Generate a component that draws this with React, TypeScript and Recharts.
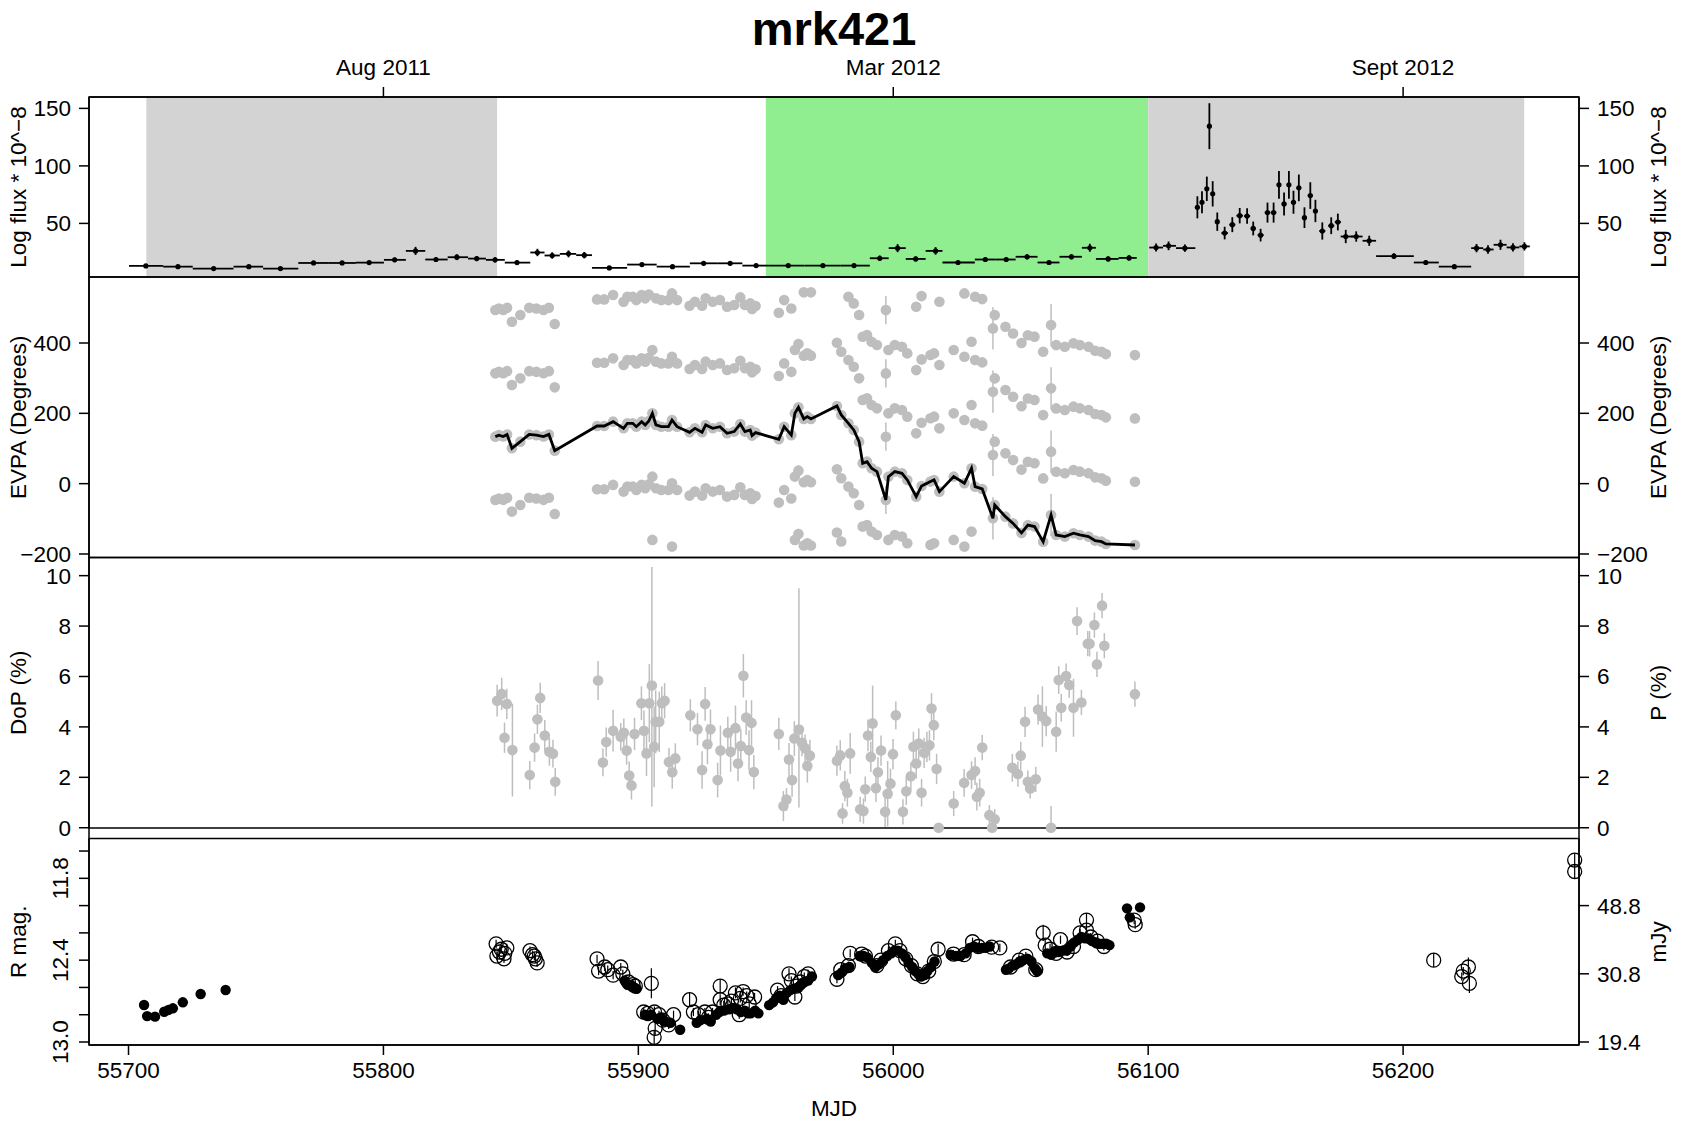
import React from 'react';
import { ComposedChart, Scatter, Line, XAxis, YAxis, ErrorBar, ReferenceArea } from 'recharts';

const FONT = "'Liberation Sans', Arial, Helvetica, sans-serif";
const PAGE_W = 1681;
const PAGE_H = 1123;
const PLOT_L = 89;
const PLOT_R = 1579;
const Y_W = 60;
const X_H = 30;
const X_DOMAIN: [number, number] = [55684.5, 56269];

// ---------- axis ticks / labels ----------
const TOP_TICKS = [55800, 56000, 56200];
const TOP_LABELS = ['Aug 2011', 'Mar 2012', 'Sept 2012'];
const MJD_TICKS = [55700, 55800, 55900, 56000, 56100, 56200];
const FLUX_TICKS = [50, 100, 150];
const EVPA_TICKS = [-200, 0, 200, 400];
const DOP_TICKS = [0, 2, 4, 6, 8, 10];
const RMAG_TICKS = [11.6, 11.8, 12.0, 12.2, 12.4, 12.6, 12.8, 13.0];
const RMAG_LABELLED = [11.8, 12.4, 13.0];
const MJY_TICKS = [12.0, 12.5, 13.0];
const MJY_LABELS = ['48.8', '30.8', '19.4'];

// ---------- shaded intervals (MJD) ----------
const SHADE_GRAY_1 = [55707, 55844.6];
const SHADE_GREEN = [55950, 56100];
const SHADE_GRAY_2 = [56100, 56247.5];

// ---------- panel layout ----------
const P_FLUX = { top: 97, bottom: 277, domain: [3.4, 159.9] as [number, number] };
const P_EVPA = { top: 277, bottom: 557.5, domain: [-210, 587.7] as [number, number] };
const P_DOP = { top: 557.5, bottom: 828, domain: [-0.01, 10.72] as [number, number] };
const P_RMAG = { top: 838.5, bottom: 1045, domain: [11.508, 13.022] as [number, number] };

// ---------- data: gamma-ray flux [mjd, binStart, binEnd, flux, err] ----------
const fluxRows = [
  [55706.8, 55700.2, 55713.6, 13.0, 1.2], [55719.4, 55713.6, 55725.2, 12.4, 1.2],
  [55733.4, 55725.2, 55741.2, 10.7, 1.0], [55747.2, 55741.2, 55752.8, 12.4, 1.3],
  [55759.6, 55752.8, 55766.6, 10.7, 1.0], [55772.6, 55766.6, 55778.6, 15.6, 1.5],
  [55783.8, 55778.6, 55789.2, 15.6, 1.4], [55794.4, 55789.2, 55800.2, 15.9, 1.5],
  [55804.4, 55800.2, 55808.8, 18.3, 2.0], [55812.6, 55808.8, 55816.4, 26.1, 3.5],
  [55820.6, 55816.4, 55825.2, 18.6, 2.0], [55828.8, 55825.2, 55833.2, 20.6, 2.5],
  [55836.6, 55833.2, 55840.2, 19.4, 2.2], [55843.8, 55840.2, 55847.6, 18.3, 2.2],
  [55852.4, 55847.6, 55857.6, 15.9, 1.8], [55860.4, 55857.6, 55863.2, 24.7, 3.2],
  [55866.2, 55863.2, 55869.2, 22.1, 2.8], [55872.6, 55869.2, 55875.6, 23.5, 3.0],
  [55878.8, 55875.6, 55881.8, 22.4, 2.8], [55888.6, 55881.8, 55895.6, 11.3, 1.0],
  [55901.4, 55895.6, 55907.2, 14.2, 1.4], [55913.4, 55907.2, 55920.2, 12.4, 1.2],
  [55925.6, 55920.2, 55931.2, 15.3, 1.5], [55936.0, 55931.2, 55940.8, 15.3, 1.4],
  [55946.2, 55940.8, 55951.2, 13.3, 1.3], [55958.8, 55951.2, 55965.2, 13.3, 1.0],
  [55972.4, 55965.2, 55979.2, 13.3, 1.0], [55984.6, 55979.2, 55990.8, 13.3, 1.0],
  [55994.7, 55990.8, 55998.2, 19.7, 2.4], [56001.7, 55998.2, 56004.9, 28.5, 3.5],
  [56008.8, 56004.9, 56012.7, 19.1, 2.2], [56016.6, 56012.7, 56019.3, 26.1, 3.3],
  [56025.4, 56019.3, 56032.0, 16.0, 1.5], [56036.1, 56032.0, 56040.2, 18.6, 2.0],
  [56044.3, 56040.2, 56048.0, 18.6, 2.0], [56052.5, 56048.0, 56056.6, 21.0, 2.4],
  [56061.1, 56056.6, 56065.2, 16.0, 1.8], [56069.9, 56065.2, 56074.0, 21.0, 2.4],
  [56077.1, 56074.0, 56079.5, 28.8, 3.5], [56084.3, 56079.5, 56088.4, 19.1, 2.2],
  [56092.5, 56088.4, 56095.5, 20.0, 2.3], [56103.1, 56100.4, 56105.8, 29.0, 3.5],
  [56108.0, 56105.8, 56110.9, 30.5, 3.8], [56114.4, 56110.9, 56118.5, 28.5, 3.2],
  [56119.3, 56118.8, 56119.8, 64.0, 9.6], [56121.1, 56120.6, 56121.6, 68.4, 9.5],
  [56123.0, 56122.5, 56123.5, 80.1, 10.6], [56124.0, 56123.6, 56124.4, 134.5, 20.0],
  [56125.3, 56124.8, 56125.8, 75.7, 11.0], [56127.1, 56126.4, 56127.8, 51.5, 8.0],
  [56130.0, 56128.7, 56131.3, 41.6, 5.5], [56133.0, 56131.8, 56134.2, 48.9, 6.5],
  [56135.9, 56134.6, 56137.2, 56.7, 6.7], [56138.8, 56137.6, 56140.0, 56.4, 6.7],
  [56141.2, 56140.2, 56142.2, 45.6, 6.0], [56144.1, 56142.9, 56145.3, 39.8, 5.5],
  [56146.8, 56145.7, 56147.9, 59.4, 8.7], [56149.2, 56148.1, 56150.3, 59.4, 8.7],
  [56151.3, 56150.5, 56152.1, 83.5, 12.0], [56153.3, 56152.4, 56154.2, 66.9, 10.0],
  [56155.2, 56154.4, 56156.0, 83.5, 12.0], [56157.0, 56156.2, 56157.8, 68.4, 10.0],
  [56159.1, 56158.2, 56160.0, 80.9, 11.6], [56161.3, 56160.3, 56162.3, 55.0, 9.0],
  [56163.6, 56162.6, 56164.6, 74.2, 11.6], [56165.6, 56164.7, 56166.5, 60.8, 9.7],
  [56168.3, 56167.1, 56169.5, 43.4, 7.5], [56171.8, 56170.6, 56173.0, 48.0, 7.3],
  [56174.4, 56173.2, 56175.6, 51.2, 7.3], [56177.5, 56175.5, 56180.6, 38.6, 5.8],
  [56181.6, 56179.6, 56184.1, 38.6, 4.5], [56186.7, 56184.1, 56189.4, 34.9, 4.4],
  [56196.4, 56189.4, 56204.2, 21.5, 2.5], [56208.9, 56204.2, 56214.0, 16.0, 1.8],
  [56220.1, 56214.0, 56226.7, 12.4, 1.2], [56228.8, 56226.7, 56231.4, 28.5, 3.6],
  [56233.3, 56231.4, 56235.5, 27.3, 3.6], [56238.2, 56235.5, 56240.6, 31.4, 4.4],
  [56243.1, 56240.6, 56245.6, 29.1, 3.6], [56247.6, 56245.6, 56249.7, 30.0, 3.6],
];

// ---------- data: EVPA [mjd, evpa(deg), err] ----------
const evpaRows = [
  [55843.9, 133.7, 5], [55845.3, 138, 4], [55847.0, 134, 4], [55848.5, 140, 4], [55850.4, 100.5, 8],
  [55853.7, 119.5, 4], [55857.2, 140, 4], [55860.0, 138, 4], [55862.8, 134, 4], [55864.9, 140, 4],
  [55867.2, 93.9, 6], [55883.8, 164, 4], [55886.6, 164, 4], [55890.1, 176.4, 5], [55894.2, 157.4, 5],
  [55895.7, 171.6, 4], [55897.8, 171.6, 4], [55899.2, 162, 4], [55901.3, 176.4, 4], [55902.7, 167, 4],
  [55904.1, 178, 5], [55905.5, 200, 12], [55906.9, 167, 5], [55909.0, 162, 4], [55911.8, 162, 4],
  [55913.2, 181, 5], [55915.2, 162, 4], [55920.1, 146, 4], [55922.2, 157.4, 4], [55925.0, 146, 4],
  [55926.4, 167, 4], [55929.2, 157.4, 4], [55932.0, 162, 4], [55934.8, 143.2, 4], [55937.6, 148, 4],
  [55940.0, 169.7, 5], [55941.8, 148, 4], [55943.9, 152.6, 4], [55944.6, 136.6, 4], [55946.0, 145.1, 4],
  [55955.1, 126.1, 5], [55957.2, 162, 5], [55960.0, 138, 5], [55961.4, 200, 8], [55962.8, 217, 15],
  [55964.9, 184, 5], [55966.3, 190.6, 5], [55967.7, 184, 5], [55977.9, 220.9, 5], [55979.6, 195.3, 5],
  [55982.4, 171.6, 5], [55984.5, 152.6, 5], [55986.6, 119.5, 5], [55988.0, 57.9, 8], [55989.7, 62.6, 5],
  [55991.5, 43.7, 5], [55993.6, 34.2, 5], [55997.1, -46.4, 40], [55998.1, 20, 5], [56000.6, 34.2, 5],
  [56003.4, 29.4, 5], [56005.5, 10.5, 5], [56009.0, -37, 6], [56011.1, -6.6, 5], [56014.6, 5.8, 5],
  [56016.0, 10.5, 5], [56018.1, -22.7, 5], [56023.7, 20, 5], [56027.9, 1, 5], [56030.7, 43.7, 6],
  [56032.1, -8.5, 5], [56034.9, -15.1, 5], [56039.1, -98.5, 60], [56039.8, -60.6, 10], [56044.0, -93.8, 5],
  [56047.0, -113, 5], [56050.3, -140, 5], [56052.8, -118, 5], [56055.4, -122, 5], [56058.8, -165, 6],
  [56061.9, -89, 60], [56063.9, -146, 5], [56067.3, -150.6, 5], [56070.7, -141, 5], [56073.2, -145.9, 5],
  [56076.6, -150.6, 5], [56079.2, -162, 5], [56081.7, -164.9, 5], [56083.4, -171.5, 5], [56094.8, -174.4, 5],
];
// the 180-degree ambiguity copies shown in grey
const EVPA_WRAPS = [-2, -1, 1, 2, 3];
const EVPA_COPY_RANGE = [-180, 545];

// ---------- data: degree of polarisation [mjd, dop(%), errLow, errHigh] ----------
const dopRows = [
  [55844.6, 5.04, 0.63, 0.63], [55846.4, 5.31, 0.64, 0.64], [55848.4, 4.91, 0.6, 0.6], [55847.5, 3.57, 0.6, 0.6],
  [55850.6, 3.08, 1.84, 1.84], [55857.4, 2.09, 0.56, 0.56], [55859.3, 3.18, 0.56, 0.56], [55860.4, 4.3, 0.58, 0.58],
  [55861.5, 5.15, 0.6, 0.6], [55863.3, 3.66, 0.61, 0.61], [55865.1, 3.01, 0.55, 0.55], [55866.5, 2.94, 0.55, 0.55],
  [55867.4, 1.82, 0.55, 0.55], [55884.2, 5.84, 0.77, 0.77], [55886.1, 2.59, 0.55, 0.55], [55887.4, 3.4, 0.58, 0.58],
  [55890.1, 3.85, 0.83, 0.83], [55893.1, 3.61, 0.55, 0.55], [55894.3, 3.77, 0.56, 0.56], [55895.4, 3.06, 0.56, 0.56],
  [55896.4, 2.07, 0.56, 0.56], [55897.3, 1.68, 0.56, 0.56], [55898.5, 3.72, 0.64, 0.64], [55901.2, 4.94, 0.67, 0.67],
  [55902.2, 3.85, 0.8, 0.8], [55903.2, 2.95, 0.9, 0.9], [55904.3, 4.94, 1.55, 1.55], [55905.3, 5.64, 4.8, 4.7],
  [55906.2, 3.21, 1.6, 1.6], [55906.8, 4.2, 1.25, 1.25], [55908.2, 4.2, 1.2, 1.2], [55909.2, 4.94, 0.66, 0.66],
  [55910.3, 5.04, 0.7, 0.7], [55912.0, 2.61, 0.55, 0.55], [55913.3, 2.2, 0.65, 0.65], [55914.5, 2.75, 0.6, 0.6],
  [55920.4, 4.46, 0.64, 0.64], [55923.2, 3.91, 0.64, 0.64], [55925.0, 2.29, 0.74, 0.74], [55926.2, 4.91, 0.67, 0.67],
  [55927.1, 3.31, 0.79, 0.79], [55928.3, 3.91, 0.78, 0.78], [55931.1, 1.89, 0.69, 0.69], [55932.2, 3.06, 0.99, 0.99],
  [55935.1, 3.77, 0.63, 0.63], [55936.2, 3.01, 0.79, 0.79], [55938.1, 3.95, 0.9, 0.9], [55939.1, 2.55, 0.71, 0.71],
  [55940.2, 3.24, 0.66, 0.66], [55941.2, 6.03, 0.86, 0.86], [55942.3, 4.37, 0.69, 0.69], [55943.4, 3.08, 0.79, 0.79],
  [55944.4, 4.16, 0.9, 0.9], [55945.3, 2.21, 0.68, 0.68], [55955.1, 3.72, 0.64, 0.64], [55956.9, 0.86, 0.6, 0.6],
  [55958.1, 1.12, 0.45, 0.45], [55959.1, 2.71, 0.65, 0.65], [55960.3, 1.89, 0.66, 0.66], [55961.2, 3.54, 0.69, 0.69],
  [55963.0, 3.9, 3.1, 5.6], [55964.2, 3.37, 0.53, 0.53], [55965.4, 3.15, 0.55, 0.55], [55966.3, 2.45, 0.66, 0.66],
  [55967.3, 2.86, 0.63, 0.63], [55977.9, 2.66, 0.6, 0.6], [55979.2, 2.87, 0.6, 0.6], [55980.1, 0.57, 0.41, 0.41],
  [55981.0, 1.65, 0.6, 0.6], [55982.0, 1.39, 0.55, 0.55], [55983.1, 2.95, 0.81, 0.81], [55987.0, 0.73, 0.5, 0.5],
  [55988.3, 0.66, 0.5, 0.5], [55989.0, 1.53, 0.5, 0.5], [55990.1, 3.66, 0.63, 0.63], [55991.2, 2.81, 0.6, 0.6],
  [55991.9, 4.14, 1.5, 1.5], [55993.2, 1.57, 0.55, 0.55], [55994.0, 2.2, 0.6, 0.6], [55995.2, 3.06, 0.6, 0.6],
  [55996.8, 0.63, 0.6, 0.86], [55997.8, 1.35, 1.3, 1.3], [55998.9, 1.75, 0.6, 0.6], [55999.9, 2.92, 0.6, 0.6],
  [56001.0, 4.46, 0.55, 0.55], [56003.8, 0.63, 0.5, 0.5], [56005.1, 1.45, 0.55, 0.55], [56006.9, 2.04, 0.55, 0.55],
  [56007.9, 3.21, 0.6, 0.6], [56009.0, 2.55, 0.6, 0.6], [56010.0, 3.34, 0.6, 0.6], [56011.1, 1.39, 0.55, 0.55],
  [56012.1, 2.97, 0.6, 0.6], [56013.2, 3.21, 0.6, 0.6], [56014.2, 3.27, 0.6, 0.6], [56015.0, 4.73, 0.61, 0.61],
  [56015.9, 4.07, 0.6, 0.6], [56017.0, 2.33, 0.6, 0.6], [56017.8, 0.0, 0, 0], [56023.7, 0.96, 0.5, 0.5],
  [56027.8, 1.78, 0.55, 0.55], [56030.7, 2.09, 0.55, 0.55], [56032.1, 2.25, 0.55, 0.55], [56032.8, 1.23, 0.55, 0.55],
  [56033.9, 1.39, 0.55, 0.55], [56034.9, 3.18, 0.5, 0.5], [56037.7, 0.5, 0.4, 0.4], [56039.8, 0.34, 0.3, 0.4],
  [56038.8, 0.0, 0, 0], [56046.7, 2.38, 0.55, 0.55], [56048.9, 2.13, 0.5, 0.5], [56050.0, 2.86, 0.55, 0.55],
  [56051.7, 4.2, 0.6, 0.6], [56052.8, 1.82, 0.45, 0.45], [56053.7, 1.56, 0.4, 0.4], [56055.9, 1.92, 0.5, 0.5],
  [56056.8, 4.69, 0.6, 0.6], [56058.5, 4.41, 1.2, 1.2], [56060.0, 4.23, 0.6, 0.6], [56061.9, 0.0, 0, 0.86],
  [56063.9, 3.81, 0.8, 0.8], [56064.9, 5.86, 0.55, 0.55], [56065.9, 4.76, 0.55, 0.55], [56067.8, 6.02, 0.5, 0.5],
  [56069.0, 5.66, 0.5, 0.5], [56070.7, 4.76, 1.15, 1.15], [56072.1, 8.2, 0.55, 0.55], [56073.8, 4.97, 0.5, 0.5],
  [56076.3, 7.3, 0.5, 0.5], [56077.0, 7.3, 0.5, 0.5], [56078.9, 8.04, 0.5, 0.5], [56079.9, 6.48, 0.5, 0.5],
  [56081.9, 8.81, 0.5, 0.5], [56082.8, 7.22, 0.5, 0.5], [56094.8, 5.3, 0.5, 0.5],
];

// ---------- data: R magnitude, filled [mjd, mag] ----------
const rmagFilledRows = [
  [55706.1, 12.729], [55707.3, 12.81], [55710.4, 12.814], [55714.0, 12.778], [55715.7, 12.765], [55717.4, 12.753],
  [55721.3, 12.709], [55728.3, 12.648], [55738.1, 12.619],
  [55894.6, 12.55], [55895.8, 12.58], [55897.0, 12.58], [55898.4, 12.6], [55899.3, 12.61],
  [55902.6, 12.8], [55903.8, 12.81], [55905.0, 12.8], [55907.5, 12.83], [55908.8, 12.82], [55910.2, 12.85],
  [55912.6, 12.86], [55916.4, 12.91], [55922.9, 12.86], [55924.4, 12.84], [55926.8, 12.83], [55928.4, 12.85],
  [55930.5, 12.8], [55931.8, 12.78], [55933.6, 12.77], [55935.6, 12.76], [55937.0, 12.75], [55938.6, 12.76],
  [55940.2, 12.78], [55941.8, 12.77], [55943.0, 12.79], [55944.1, 12.79], [55945.8, 12.77], [55947.1, 12.79],
  [55951.3, 12.73], [55952.8, 12.71], [55954.0, 12.68], [55955.4, 12.66], [55956.9, 12.69], [55958.2, 12.64],
  [55959.6, 12.62], [55960.8, 12.61], [55962.5, 12.6], [55963.8, 12.58], [55965.2, 12.56], [55966.6, 12.55],
  [55968.1, 12.52], [55978.4, 12.51], [55979.8, 12.49], [55981.3, 12.46], [55982.8, 12.45], [55986.8, 12.37],
  [55988.4, 12.37], [55989.8, 12.38], [55991.6, 12.42], [55993.0, 12.45], [55994.4, 12.43], [55996.0, 12.4],
  [55997.6, 12.37], [55999.2, 12.35], [56000.4, 12.33], [56001.8, 12.33], [56003.4, 12.35], [56004.8, 12.38],
  [56006.0, 12.42], [56007.4, 12.45], [56008.6, 12.48], [56009.8, 12.5], [56010.9, 12.52], [56012.3, 12.51],
  [56013.4, 12.48], [56014.8, 12.45], [56016.2, 12.41], [56022.5, 12.36], [56024.5, 12.37], [56026.3, 12.37],
  [56028.4, 12.35], [56030.0, 12.31], [56031.6, 12.3], [56033.2, 12.31], [56034.8, 12.31], [56036.2, 12.31],
  [56037.8, 12.3], [56044.2, 12.47], [56045.4, 12.46], [56046.8, 12.44], [56048.2, 12.43], [56049.6, 12.41],
  [56051.0, 12.4], [56052.6, 12.39], [56054.2, 12.41], [56055.6, 12.46], [56056.4, 12.48], [56060.4, 12.35],
  [56062.0, 12.36], [56063.4, 12.34], [56064.8, 12.34], [56066.4, 12.33], [56068.0, 12.33], [56069.6, 12.3],
  [56071.0, 12.27], [56072.4, 12.25], [56073.8, 12.23], [56075.2, 12.24], [56076.6, 12.24], [56078.0, 12.26],
  [56079.4, 12.27], [56080.8, 12.28], [56082.2, 12.28], [56083.6, 12.28], [56084.8, 12.29],
  [56091.7, 12.02], [56092.8, 12.086], [56096.8, 12.013],
];

// ---------- data: R magnitude, open [mjd, mag, err] ----------
const rmagOpenRows = [
  [55844.2, 12.28, 0.03], [55844.5, 12.37, 0.03], [55845.5, 12.34, 0.03], [55846.2, 12.32, 0.03], [55847.3, 12.39, 0.03],
  [55847.6, 12.35, 0.03], [55848.4, 12.31, 0.03], [55857.5, 12.33, 0.03], [55858.5, 12.36, 0.03], [55859.2, 12.37, 0.03],
  [55859.6, 12.39, 0.03], [55860.3, 12.42, 0.03], [55883.8, 12.39, 0.03], [55884.4, 12.48, 0.03], [55886.8, 12.45, 0.03],
  [55888.0, 12.47, 0.03], [55890.1, 12.51, 0.03], [55893.1, 12.45, 0.03], [55893.9, 12.5, 0.03], [55896.1, 12.56, 0.03],
  [55897.9, 12.58, 0.03], [55898.8, 12.59, 0.03], [55905.1, 12.57, 0.11], [55902.1, 12.78, 0.03], [55903.6, 12.79, 0.03],
  [55906.3, 12.78, 0.04], [55906.6, 12.9, 0.05], [55906.2, 12.966, 0.05], [55908.1, 12.8, 0.03], [55909.6, 12.84, 0.03],
  [55911.9, 12.875, 0.03], [55913.8, 12.8, 0.03], [55920.1, 12.69, 0.05], [55921.6, 12.78, 0.03], [55923.5, 12.8, 0.03],
  [55926.1, 12.78, 0.03], [55927.5, 12.82, 0.03], [55929.1, 12.78, 0.03], [55932.1, 12.59, 0.05], [55932.1, 12.69, 0.04],
  [55933.5, 12.73, 0.03], [55935.1, 12.72, 0.03], [55936.5, 12.7, 0.03], [55938.1, 12.64, 0.04], [55939.6, 12.8, 0.03],
  [55940.0, 12.68, 0.03], [55941.1, 12.63, 0.03], [55942.5, 12.66, 0.03], [55943.5, 12.72, 0.03], [55945.6, 12.67, 0.03],
  [55954.6, 12.62, 0.03], [55956.0, 12.66, 0.03], [55959.1, 12.5, 0.04], [55960.0, 12.55, 0.03], [55961.4, 12.67, 0.03],
  [55962.1, 12.59, 0.03], [55963.5, 12.56, 0.03], [55965.1, 12.52, 0.03], [55966.6, 12.5, 0.03], [55977.9, 12.54, 0.03],
  [55979.4, 12.47, 0.03], [55982.4, 12.44, 0.03], [55983.1, 12.35, 0.03], [55987.6, 12.355, 0.03], [55989.1, 12.37, 0.03],
  [55993.6, 12.44, 0.03], [55995.1, 12.4, 0.03], [55998.1, 12.33, 0.03], [56000.8, 12.28, 0.03], [56002.6, 12.33, 0.03],
  [56004.9, 12.39, 0.03], [56007.1, 12.44, 0.03], [56009.4, 12.5, 0.03], [56011.6, 12.52, 0.03], [56013.9, 12.48, 0.03],
  [56016.1, 12.41, 0.03], [56017.6, 12.32, 0.04], [56023.6, 12.355, 0.03], [56027.8, 12.36, 0.03], [56031.1, 12.265, 0.03],
  [56033.4, 12.3, 0.03], [56038.6, 12.305, 0.03], [56041.8, 12.31, 0.03], [56046.0, 12.45, 0.03], [56049.4, 12.4, 0.03],
  [56052.0, 12.37, 0.03], [56055.9, 12.47, 0.03], [56058.8, 12.2, 0.06], [56059.6, 12.29, 0.04], [56061.5, 12.32, 0.04],
  [56063.9, 12.35, 0.03], [56065.6, 12.25, 0.03], [56068.2, 12.34, 0.03], [56070.7, 12.3, 0.03], [56073.3, 12.2, 0.03],
  [56075.8, 12.106, 0.05], [56075.8, 12.18, 0.04], [56077.5, 12.23, 0.03], [56080.1, 12.26, 0.03], [56082.6, 12.3, 0.03],
  [56094.5, 12.106, 0.03], [56094.9, 12.14, 0.03], [56212.0, 12.4, 0.05], [56223.0, 12.52, 0.03], [56223.6, 12.48, 0.03],
  [56225.6, 12.45, 0.07], [56226.0, 12.57, 0.07], [56267.3, 11.666, 0.05], [56267.3, 11.75, 0.05],
];

// ---------- derived series ----------
const fluxData = fluxRows.map(([x, lo, hi, y, e]) => ({ x, y, ex: [x - lo, hi - x], ey: e }));
const evpaMain = evpaRows.map(([x, y, e]) => ({ x, y, e }));
const evpaCopies = evpaRows
  .flatMap(([x, y, e]) => EVPA_WRAPS.map((k) => ({ x, y: y + k * 180, e })))
  .filter((p) => p.y >= EVPA_COPY_RANGE[0] && p.y <= EVPA_COPY_RANGE[1]
    && p.y - p.e > P_EVPA.domain[0] && p.y + p.e < P_EVPA.domain[1]);
const dopData = dopRows.map(([x, y, lo, hi]) => ({ x, y, e: [lo, hi] }));
const rmagFilled = rmagFilledRows.map(([x, y]) => ({ x, y }));
const rmagOpen = rmagOpenRows.map(([x, y, e]) => ({ x, y, e }));

// ---------- styles ----------
const GREY = '#bebebe';
const AX = { stroke: '#000', strokeWidth: 1.5 };
const TICK = { fontSize: 22.5, fill: '#000', fontFamily: FONT };
const fmtNum = (v: number) => String(v).replace('-', '\u2212');

const blackDot = (p: any) => <circle cx={p.cx} cy={p.cy} r={2.6} fill="#000" />;
const greyDot = (p: any) => <circle cx={p.cx} cy={p.cy} r={5.3} fill={GREY} />;
const filledDot = (p: any) => <circle cx={p.cx} cy={p.cy} r={5.2} fill="#000" />;
const openDot = (p: any) => <circle cx={p.cx} cy={p.cy} r={7} fill="none" stroke="#000" strokeWidth={1.3} />;

const RmagTick = (p: any) => {
  const v = p.payload.value;
  if (!RMAG_LABELLED.some((t) => Math.abs(t - v) < 1e-6)) return <g />;
  return (
    <text x={p.x} y={p.y} transform={`rotate(-90 ${p.x} ${p.y})`} textAnchor="middle"
      fontSize={22.5} fontFamily={FONT} fill="#000">{v.toFixed(1)}</text>
  );
};

function leftY(domain: [number, number], ticks: number[], extra: any = {}) {
  return (
    <YAxis yAxisId="l" type="number" dataKey="y" domain={domain} ticks={ticks} interval={0} width={Y_W}
      tickSize={10} tickMargin={8} tick={TICK} axisLine={AX} tickLine={AX} tickFormatter={fmtNum} {...extra} />
  );
}
function rightY(domain: [number, number], ticks: number[], extra: any = {}) {
  return (
    <YAxis yAxisId="r" orientation="right" type="number" domain={domain} ticks={ticks} interval={0} width={Y_W}
      allowDataOverflow tickSize={10} tickMargin={8} tick={TICK} axisLine={AX} tickLine={AX} tickFormatter={fmtNum} {...extra} />
  );
}
function border(domain: [number, number]) {
  return (
    <ReferenceArea yAxisId="l" x1={X_DOMAIN[0]} x2={X_DOMAIN[1]} y1={domain[0]} y2={domain[1]}
      fill="none" stroke="#000" strokeWidth={1.5} ifOverflow="visible" />
  );
}
function shade(range: number[], domain: [number, number], color: string) {
  return (
    <ReferenceArea yAxisId="l" x1={range[0]} x2={range[1]} y1={domain[0]} y2={domain[1]}
      fill={color} fillOpacity={1} stroke="none" ifOverflow="visible" />
  );
}

// a chart whose plot area sits exactly on the panel rectangle
function Panel({ top, bottom, axes = true, topAxis = false, bottomAxis = false, children }: any) {
  const margin = {
    top: topAxis ? top - X_H : top,
    bottom: bottomAxis ? PAGE_H - bottom - X_H : PAGE_H - bottom,
    left: axes ? PLOT_L - Y_W : PLOT_L,
    right: axes ? PAGE_W - PLOT_R - Y_W : PAGE_W - PLOT_R,
  };
  return (
    <div style={{ position: 'absolute', left: 0, top: 0 }}>
      <ComposedChart width={PAGE_W} height={PAGE_H} margin={margin}>
        {children}
      </ComposedChart>
    </div>
  );
}

const midX = (PLOT_L + PLOT_R) / 2;
const midY = (p: { top: number; bottom: number }) => (p.top + p.bottom) / 2;
const LEFT_TITLE_X = 26;
const RIGHT_TITLE_X = 1666;

export default function App() {
  const sideTitle = (x: number, y: number, label: string) => (
    <text x={x} y={y} transform={`rotate(-90 ${x} ${y})`} textAnchor="middle" fontSize={22.5} fontFamily={FONT} fill="#000">{label}</text>
  );
  return (
    <div style={{ position: 'absolute', left: 0, top: 0, width: PAGE_W, height: PAGE_H, background: '#fff' }}>
      {/* Panel 1: flux */}
      <Panel top={P_FLUX.top} bottom={P_FLUX.bottom} topAxis>
        <XAxis type="number" dataKey="x" domain={X_DOMAIN} orientation="top" height={X_H} ticks={TOP_TICKS} interval={0}
          tickFormatter={(v: number) => TOP_LABELS[TOP_TICKS.indexOf(v)] ?? ''} tickSize={10} tickMargin={12.5}
          tick={TICK} axisLine={AX} tickLine={AX} />
        {leftY(P_FLUX.domain, FLUX_TICKS)}
        {rightY(P_FLUX.domain, FLUX_TICKS)}
        {shade(SHADE_GRAY_1, P_FLUX.domain, '#d3d3d3')}
        {shade(SHADE_GREEN, P_FLUX.domain, '#90ee90')}
        {shade(SHADE_GRAY_2, P_FLUX.domain, '#d3d3d3')}
        <Scatter yAxisId="l" data={fluxData} dataKey="y" shape={blackDot} isAnimationActive={false}>
          <ErrorBar dataKey="ex" direction="x" width={0} stroke="#000" strokeWidth={1.8} />
          <ErrorBar dataKey="ey" direction="y" width={0} stroke="#000" strokeWidth={1.8} />
        </Scatter>
        {border(P_FLUX.domain)}
      </Panel>

      {/* Panel 2: EVPA (grey points incl. 180-degree copies) */}
      <Panel top={P_EVPA.top} bottom={P_EVPA.bottom}>
        <XAxis type="number" dataKey="x" domain={X_DOMAIN} hide />
        {leftY(P_EVPA.domain, EVPA_TICKS)}
        {rightY(P_EVPA.domain, EVPA_TICKS)}
        <Scatter yAxisId="l" data={evpaCopies} dataKey="y" shape={greyDot} isAnimationActive={false}>
          <ErrorBar dataKey="e" direction="y" width={0} stroke={GREY} strokeWidth={1.5} />
        </Scatter>
        <Scatter yAxisId="l" data={evpaMain} dataKey="y" shape={greyDot} isAnimationActive={false}>
          <ErrorBar dataKey="e" direction="y" width={0} stroke={GREY} strokeWidth={1.5} />
        </Scatter>
        {border(P_EVPA.domain)}
      </Panel>
      {/* Panel 2 overlay: EVPA line drawn on top of the grey points */}
      <Panel top={P_EVPA.top} bottom={P_EVPA.bottom} axes={false}>
        <XAxis type="number" dataKey="x" domain={X_DOMAIN} hide />
        <YAxis yAxisId="l" type="number" dataKey="y" domain={P_EVPA.domain} hide />
        <Line yAxisId="l" data={evpaMain} dataKey="y" type="linear" stroke="#000" strokeWidth={2.8}
          dot={false} activeDot={false} isAnimationActive={false} />
      </Panel>

      {/* Panel 3: DoP */}
      <Panel top={P_DOP.top} bottom={P_DOP.bottom}>
        <XAxis type="number" dataKey="x" domain={X_DOMAIN} hide />
        {leftY(P_DOP.domain, DOP_TICKS)}
        {rightY(P_DOP.domain, DOP_TICKS)}
        <Scatter yAxisId="l" data={dopData} dataKey="y" shape={greyDot} isAnimationActive={false}>
          <ErrorBar dataKey="e" direction="y" width={0} stroke={GREY} strokeWidth={1.5} />
        </Scatter>
        {border(P_DOP.domain)}
      </Panel>

      {/* Panel 4: R magnitude */}
      <Panel top={P_RMAG.top} bottom={P_RMAG.bottom} bottomAxis>
        <XAxis type="number" dataKey="x" domain={X_DOMAIN} orientation="bottom" height={X_H} ticks={MJD_TICKS} interval={0}
          tickSize={10} tickMargin={7} tick={TICK} axisLine={AX} tickLine={AX} />
        {leftY(P_RMAG.domain, RMAG_TICKS, { reversed: true, tick: RmagTick, tickMargin: 11 })}
        {rightY(P_RMAG.domain, MJY_TICKS, {
          reversed: true,
          tickFormatter: (v: number) => MJY_LABELS[MJY_TICKS.findIndex((t) => Math.abs(t - v) < 1e-6)] ?? '',
        })}
        <Scatter yAxisId="l" data={rmagFilled} dataKey="y" shape={filledDot} isAnimationActive={false} />
        <Scatter yAxisId="l" data={rmagOpen} dataKey="y" shape={openDot} isAnimationActive={false}>
          <ErrorBar dataKey="e" direction="y" width={0} stroke="#000" strokeWidth={1.2} />
        </Scatter>
        {border(P_RMAG.domain)}
      </Panel>

      {/* titles and axis titles */}
      <svg width={PAGE_W} height={PAGE_H} style={{ position: 'absolute', left: 0, top: 0, pointerEvents: 'none' }}>
        <text x={midX} y={45} textAnchor="middle" fontSize={47} fontWeight="bold" fontFamily={FONT} fill="#000">mrk421</text>
        {sideTitle(LEFT_TITLE_X, midY(P_FLUX), 'Log flux * 10^\u22128')}
        {sideTitle(RIGHT_TITLE_X, midY(P_FLUX), 'Log flux * 10^\u22128')}
        {sideTitle(LEFT_TITLE_X, midY(P_EVPA), 'EVPA (Degrees)')}
        {sideTitle(RIGHT_TITLE_X, midY(P_EVPA), 'EVPA (Degrees)')}
        {sideTitle(LEFT_TITLE_X, midY(P_DOP), 'DoP (%)')}
        {sideTitle(RIGHT_TITLE_X, midY(P_DOP), 'P (%)')}
        {sideTitle(LEFT_TITLE_X, midY(P_RMAG), 'R mag.')}
        {sideTitle(RIGHT_TITLE_X, midY(P_RMAG), 'mJy')}
        <text x={midX} y={1115.5} textAnchor="middle" fontSize={22.5} fontFamily={FONT} fill="#000">MJD</text>
        <line x1={PLOT_L} x2={PLOT_L} y1={P_DOP.bottom} y2={P_RMAG.top} stroke="#000" strokeWidth={1.5} />
        <line x1={PLOT_R} x2={PLOT_R} y1={P_DOP.bottom} y2={P_RMAG.top} stroke="#000" strokeWidth={1.5} />
      </svg>
    </div>
  );
}
